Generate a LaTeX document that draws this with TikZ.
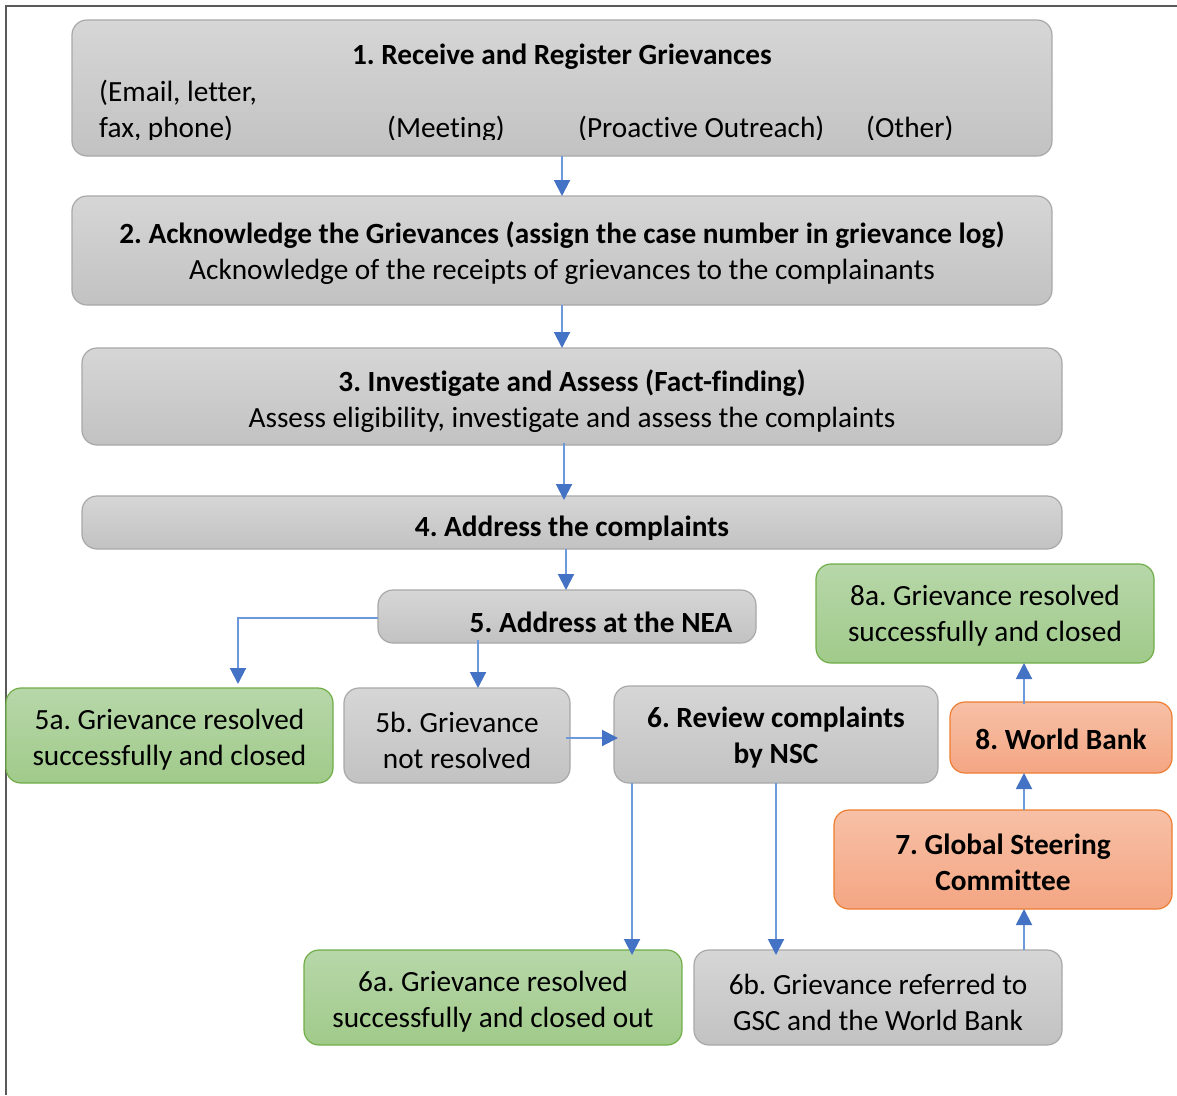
\documentclass[tikz,border=0pt]{standalone}
\usepackage{fontspec}
\setmainfont{Carlito}[Ligatures=NoCommon]
\usetikzlibrary{arrows.meta}
\definecolor{grayT}{HTML}{D6D6D6}
\definecolor{grayB}{HTML}{C2C2C2}
\definecolor{grayL}{HTML}{A8A8A8}
\definecolor{greenT}{HTML}{B7D7A9}
\definecolor{greenB}{HTML}{A0CA8A}
\definecolor{greenL}{HTML}{70AD47}
\definecolor{orT}{HTML}{F7C0A6}
\definecolor{orB}{HTML}{F4A683}
\definecolor{orL}{HTML}{ED7D31}
\definecolor{lineblue}{HTML}{6E98DC}
\definecolor{tipblue}{HTML}{4472C4}
\definecolor{framecol}{HTML}{5A5A5A}
\tikzset{
  boxbase/.style={rounded corners=15pt, line width=1.2pt, inner sep=0pt, outer sep=0pt},
  graybox/.style={boxbase, draw=grayL, top color=grayT, bottom color=grayB},
  greenbox/.style={boxbase, draw=greenL, top color=greenT, bottom color=greenB},
  orbox/.style={boxbase, draw=orL, top color=orT, bottom color=orB},
  txt/.style={font=\fontsize{29.3}{36}\selectfont, align=center, inner sep=0pt},
  btxt/.style={txt, font=\fontsize{29.3}{36}\selectfont\bfseries},
  arr/.style={draw=lineblue, line width=2pt, -{Triangle[width=16pt,length=16pt,color=tipblue]}},
}
\frenchspacing
\begin{document}
\begin{tikzpicture}[x=1pt,y=-1pt]
\useasboundingbox (0,0) rectangle (1177,1095);
\draw[framecol, line width=2pt] (6,1095) -- (6,6) -- (1177,6);

% boxes
\node[graybox, minimum width=980pt, minimum height=136pt] (b1) at (562,88) {};
\node[graybox, minimum width=980pt, minimum height=109pt] (b2) at (562,250.5) {};
\node[graybox, minimum width=980pt, minimum height=97pt] (b3) at (572,396.5) {};
\node[graybox, minimum width=980pt, minimum height=53pt] (b4) at (572,522.5) {};
\node[graybox, minimum width=378pt, minimum height=53pt] (b5) at (567,616.5) {};
\node[greenbox, minimum width=327pt, minimum height=95pt] (b5a) at (169.5,735.5) {};
\node[graybox, minimum width=226pt, minimum height=95pt] (b5b) at (457,735.5) {};
\node[graybox, minimum width=324pt, minimum height=97pt] (b6) at (776,734.5) {};
\node[greenbox, minimum width=338pt, minimum height=99pt] (b8a) at (985,613.5) {};
\node[orbox, minimum width=222pt, minimum height=71pt] (b8) at (1061,737.5) {};
\node[orbox, minimum width=338pt, minimum height=99pt] (b7) at (1003,859.5) {};
\node[greenbox, minimum width=378pt, minimum height=95pt] (b6a) at (493,997.5) {};
\node[graybox, minimum width=368pt, minimum height=95pt] (b6b) at (878,997.5) {};

% texts
\begin{scope}
\clip (72,20) rectangle (1052,139);
\node[btxt] (t1) at (562,57) {1. Receive and Register Grievances};
\node[txt, anchor=west, align=left] (t1a) at (99,111) {(Email, letter,\\fax, phone)};
\node[txt, anchor=west] (t1b) at (387,129) {(Meeting)};
\node[txt, anchor=west] (t1c) at (578,129) {(Proactive Outreach)};
\node[txt, anchor=west] (t1d) at (866,129) {(Other)};
\end{scope}
\node[txt] (t2) at (562,253) {\textbf{2. Acknowledge the Grievances (assign the case number in grievance log)}\\Acknowledge of the receipts of grievances to the complainants};
\node[txt] (t3) at (572,401) {\textbf{3. Investigate and Assess (Fact-finding)}\\Assess eligibility, investigate and assess the complaints};
\begin{scope}
\clip (82,496) rectangle (1062,539);
\node[btxt] (t4) at (572,529) {4. Address the complaints};
\end{scope}
\node[btxt] (t5) at (601,622) {5. Address at the NEA};
\node[txt] (t5a) at (169.5,740) {5a. Grievance resolved\\successfully and closed};
\node[txt] (t5b) at (457,740) {5b. Grievance\\not resolved};
\node[btxt] (t6) at (776,738) {6. Review complaints\\by NSC};
\node[txt] (t8a) at (985,616) {8a. Grievance resolved\\successfully and closed};
\node[btxt] (t8) at (1061,739) {8. World Bank};
\node[btxt] (t7) at (1003,862) {7. Global Steering\\Committee};
\node[txt] (t6a) at (493,1002) {6a. Grievance resolved\\successfully and closed out};
\node[txt] (t6b) at (878,1002) {6b. Grievance referred to\\GSC and the World Bank};

% connectors
\coordinate (x562) at (562,0);
\coordinate (x564) at (564,0);
\coordinate (x566) at (566,0);
\coordinate (x478) at (478,0);
\coordinate (x632) at (632,0);
\coordinate (x776) at (776,0);
\coordinate (x1024) at (1024,0);
\coordinate (k5) at (238,618);
\coordinate (y738) at (0,738);
\draw[arr] (x562 |- b1.south) -- (x562 |- b2.north);
\draw[arr] (x562 |- b2.south) -- (x562 |- b3.north);
\draw[arr] ([yshift=2pt]x564 |- b3.south) -- ([yshift=-4pt]x564 |- b4.north);
\draw[arr] (x566 |- b4.south) -- (x566 |- b5.north);
\draw[arr] (b5.west |- k5) -- (k5) -- ([yshift=4pt]k5 |- b5a.north);
\draw[arr] ([yshift=3pt]x478 |- b5.south) -- (x478 |- b5b.north);
\draw[arr] ([xshift=-4pt]b5b.east |- y738) -- ([xshift=4pt]b6.west |- y738);
\draw[arr] (x632 |- b6.south) -- ([yshift=-5pt]x632 |- b6a.north);
\draw[arr] (x776 |- b6.south) -- ([yshift=-5pt]x776 |- b6b.north);
\draw[arr] (x1024 |- b6b.north) -- (x1024 |- b7.south);
\draw[arr] (x1024 |- b7.north) -- (x1024 |- b8.south);
\draw[arr] ([yshift=-2pt]x1024 |- b8.north) -- (x1024 |- b8a.south);
\end{tikzpicture}
\end{document}
